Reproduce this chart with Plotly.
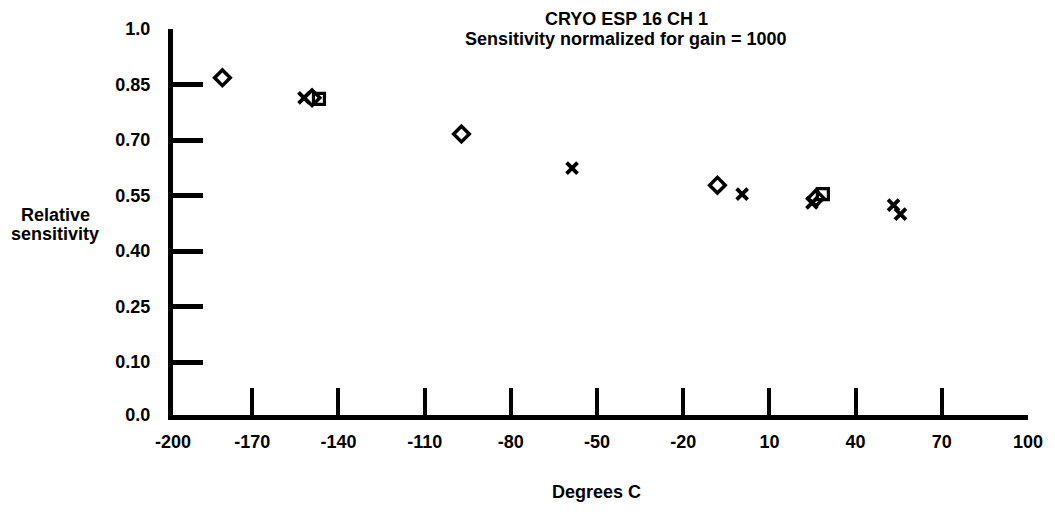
import plotly.graph_objects as go

# Tick positions / labels (axis ends are labelled as in the original drawing)
x_tickvals = [-197.6, -170, -140, -110, -80, -50, -20, 10, 40, 70, 100]
x_ticktext = ["-200", "-170", "-140", "-110", "-80", "-50", "-20", "10", "40", "70", "100"]
y_tickvals = [-0.043, 0.10, 0.25, 0.40, 0.55, 0.70, 0.85, 1.0]
y_ticktext = ["0.0", "0.10", "0.25", "0.40", "0.55", "0.70", "0.85", "1.0"]

# Data series
diamond_x = [-180.4, -149.2, -97.2, -8.1, 26.2]
diamond_y = [0.868, 0.814, 0.716, 0.578, 0.543]
cross_x = [-152.0, -58.7, 0.5, 24.8, 53.2, 55.6]
cross_y = [0.814, 0.624, 0.554, 0.530, 0.524, 0.500]
square_x = [-146.8, 28.6]
square_y = [0.811, 0.554]

fig = go.Figure()
fig.add_trace(go.Scatter(x=diamond_x, y=diamond_y, mode="markers",
                         marker=dict(symbol="diamond-open", size=12, color="black",
                                     line=dict(width=3.5, color="black")),
                         name="diamond"))
fig.add_trace(go.Scatter(x=cross_x, y=cross_y, mode="markers",
                         marker=dict(symbol="x-thin-open", size=11, color="black",
                                     line=dict(width=3.8, color="black")),
                         name="cross"))
fig.add_trace(go.Scatter(x=square_x, y=square_y, mode="markers",
                         marker=dict(symbol="square-open", size=11, color="black",
                                     line=dict(width=3.2, color="black")),
                         name="square"))

font_family = "Liberation Sans"

fig.update_layout(
    width=1055, height=516,
    margin=dict(l=173, r=24, t=29, b=101),
    paper_bgcolor="white", plot_bgcolor="white",
    showlegend=False,
    font=dict(family=font_family, color="black"),
    xaxis=dict(range=[-197.6, 100], showgrid=False, zeroline=False,
               showline=True, linewidth=5, linecolor="black",
               ticks="inside", ticklen=27, tickwidth=4, tickcolor="black",
               tickvals=x_tickvals, ticktext=x_ticktext,
               tickfont=dict(size=18, family=font_family, weight="bold"),
               ticklabelstandoff=6),
    yaxis=dict(range=[-0.043, 1.0], showgrid=False, zeroline=False,
               showline=True, linewidth=5, linecolor="black",
               ticks="inside", ticklen=30, tickwidth=5, tickcolor="black",
               tickvals=y_tickvals, ticktext=y_ticktext,
               tickfont=dict(size=18, family=font_family, weight="bold"),
               ticklabelstandoff=14),
    annotations=[
        dict(text="<b>CRYO ESP 16 CH 1</b>", xref="paper", yref="paper",
             x=0.530, y=1.026, xanchor="center", yanchor="middle",
             showarrow=False, font=dict(size=18)),
        dict(text="<b>Sensitivity normalized for gain = 1000</b>", xref="paper", yref="paper",
             x=0.530, y=0.974, xanchor="center", yanchor="middle",
             showarrow=False, font=dict(size=18)),
        dict(text="<b>Relative</b>", xref="paper", yref="paper",
             x=-0.1375, y=0.519, xanchor="center", yanchor="middle",
             showarrow=False, font=dict(size=18)),
        dict(text="<b>sensitivity</b>", xref="paper", yref="paper",
             x=-0.1375, y=0.469, xanchor="center", yanchor="middle",
             showarrow=False, font=dict(size=18)),
        dict(text="<b>Degrees C</b>", xref="paper", yref="paper",
             x=0.495, y=-0.2, xanchor="center", yanchor="middle",
             showarrow=False, font=dict(size=18)),
    ],
)

fig.write_html("out.html",
               config={"displayModeBar": False},
               post_script="document.body.style.margin='0';document.body.style.overflow='hidden';")
